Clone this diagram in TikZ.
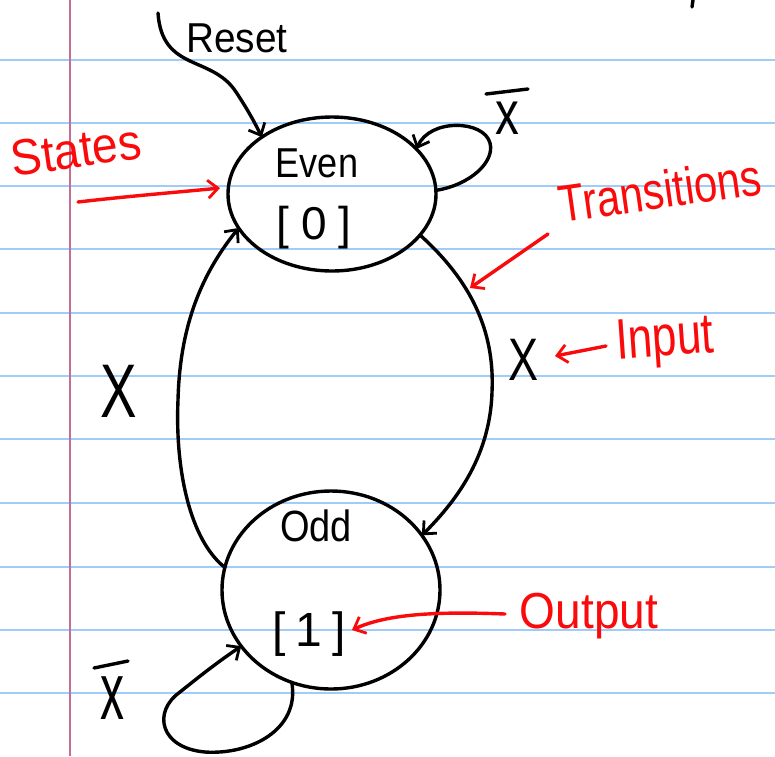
\documentclass[tikz,border=0pt]{standalone}
\usepackage{fontspec}
\setmainfont{Liberation Sans}
\usetikzlibrary{shapes.geometric,arrows.meta}
\definecolor{ruleblue}{RGB}{160,204,250}
\definecolor{marginpink}{RGB}{196,110,150}
\definecolor{inkred}{RGB}{250,10,10}
\tikzset{
  ink/.style={line width=3.4pt, line cap=round, line join=round},
  redink/.style={ink, draw=inkred},
  tip/.style={-{Straight Barb[length=10pt,width=18pt,line width=2.8pt]}},
  statebox/.style={ellipse, draw, ink, inner sep=0pt, outer sep=0pt},
  lbl/.style={inner sep=0pt, font=\fontsize{38}{42}\selectfont},
  redlbl/.style={inner sep=0pt, text=inkred, font=\fontsize{44}{48}\selectfont},
}
\begin{document}
\begin{tikzpicture}[x=1pt,y=-1pt]
\useasboundingbox (0,0) rectangle (775,756);
\fill[white] (0,0) rectangle (775,756);
% ruled paper
\foreach \yy in {60,123,186,249,313,376,439,503,567,630,693}
  \draw[ruleblue, line width=2pt] (0,\yy) -- (775,\yy);
\draw[marginpink, line width=2pt] (70,0) -- (70,756);
% stray mark top right
\draw[ink] (693,0) -- (692,7);
% states
\node[statebox, minimum width=208pt, minimum height=154pt] (even) at (332,194) {};
\node[statebox, minimum width=218pt, minimum height=198pt] (odd) at (331,590) {};
\node[lbl] (evenname) at (317,163) {\scalebox{0.95}[1.1]{Even}};
\node[lbl, font=\fontsize{46}{48}\selectfont] (evenout) at (314,228) {[\hspace{12pt}0\hspace{12pt}]};
\node[lbl] (oddname) at (316,526) {\scalebox{1}[1.15]{Odd}};
\node[lbl, font=\fontsize{48}{50}\selectfont] (oddout) at (309,634) {[\hspace{10pt}1\hspace{10pt}]};
% reset
\coordinate (rs) at (158,13);
\node[lbl] (resetlbl) at (237,38) {\scalebox{1.02}[1.1]{Reset}};
\draw[ink, tip] (rs) .. controls (162,72) and (212,55) .. (236,92)
  .. controls (248,110) and (256,125) .. (even.141);
% self loop on even
\draw[ink, tip] (even.2) .. controls (470,185) and (495,162) .. (490,143)
  .. controls (484,120) and (430,118) .. (even.28);
\node[lbl, font=\fontsize{56}{60}\selectfont] (xbar1) at (507,118) {\scalebox{0.85}[1.1]{x}};
\draw[ink] (486,94) -- (528,89);
% even -> odd
\draw[ink, tip] (even.-25) .. controls (470,280) and (495,330) .. (492,392)
  .. controls (490,460) and (452,505) .. (odd.31);
\node[lbl, font=\fontsize{60}{64}\selectfont] (x1) at (523,360) {\scalebox{0.75}[1]{X}};
% odd -> even
\draw[ink, tip] (odd.168) .. controls (190,540) and (175,470) .. (178,400)
  .. controls (180,320) and (205,270) .. (even.200);
\node[lbl, font=\fontsize{76}{80}\selectfont] (x2) at (119,391) {\scalebox{0.72}[1]{X}};
% self loop on odd
\draw[ink, tip] (odd.247) .. controls (300,730) and (250,755) .. (205,752)
  .. controls (160,748) and (152,712) .. (180,692)
  .. controls (200,676) and (215,664) .. (odd.212);
\node[lbl, font=\fontsize{60}{64}\selectfont] (xbar2) at (112,698) {\scalebox{0.8}[1.35]{x}};
\draw[ink] (94,668) -- (128,661);
% red annotations
\node[redlbl, rotate=8] (states) at (76,150) {\scalebox{1.05}[1.15]{States}};
\coordinate (sa) at (78,202);
\coordinate (sb) at (220,188);
\draw[redink, tip] (sa) .. controls (130,196) and (180,192) .. (sb);
\node[redlbl, rotate=8, font=\fontsize{40}{44}\selectfont] (trans) at (660,190) {\scalebox{1.05}[1.3]{Transitions}};
\coordinate (ta) at (548,234);
\coordinate (tb) at (470,288);
\draw[redink, tip] (ta) -- (tb);
\node[redlbl, rotate=4] (input) at (665,342) {\scalebox{1}[1.3]{Input}};
\coordinate (ia) at (606,346);
\coordinate (ib) at (555,356);
\draw[redink, tip] (ia) -- (ib);
\node[redlbl, font=\fontsize{46}{50}\selectfont] (output) at (589,616) {\scalebox{1}[1.1]{Output}};
\coordinate (oa) at (505,614);
\coordinate (ob) at (352,630);
\draw[redink, tip] (oa) .. controls (430,611) and (385,615) .. (ob);
\end{tikzpicture}
\end{document}
